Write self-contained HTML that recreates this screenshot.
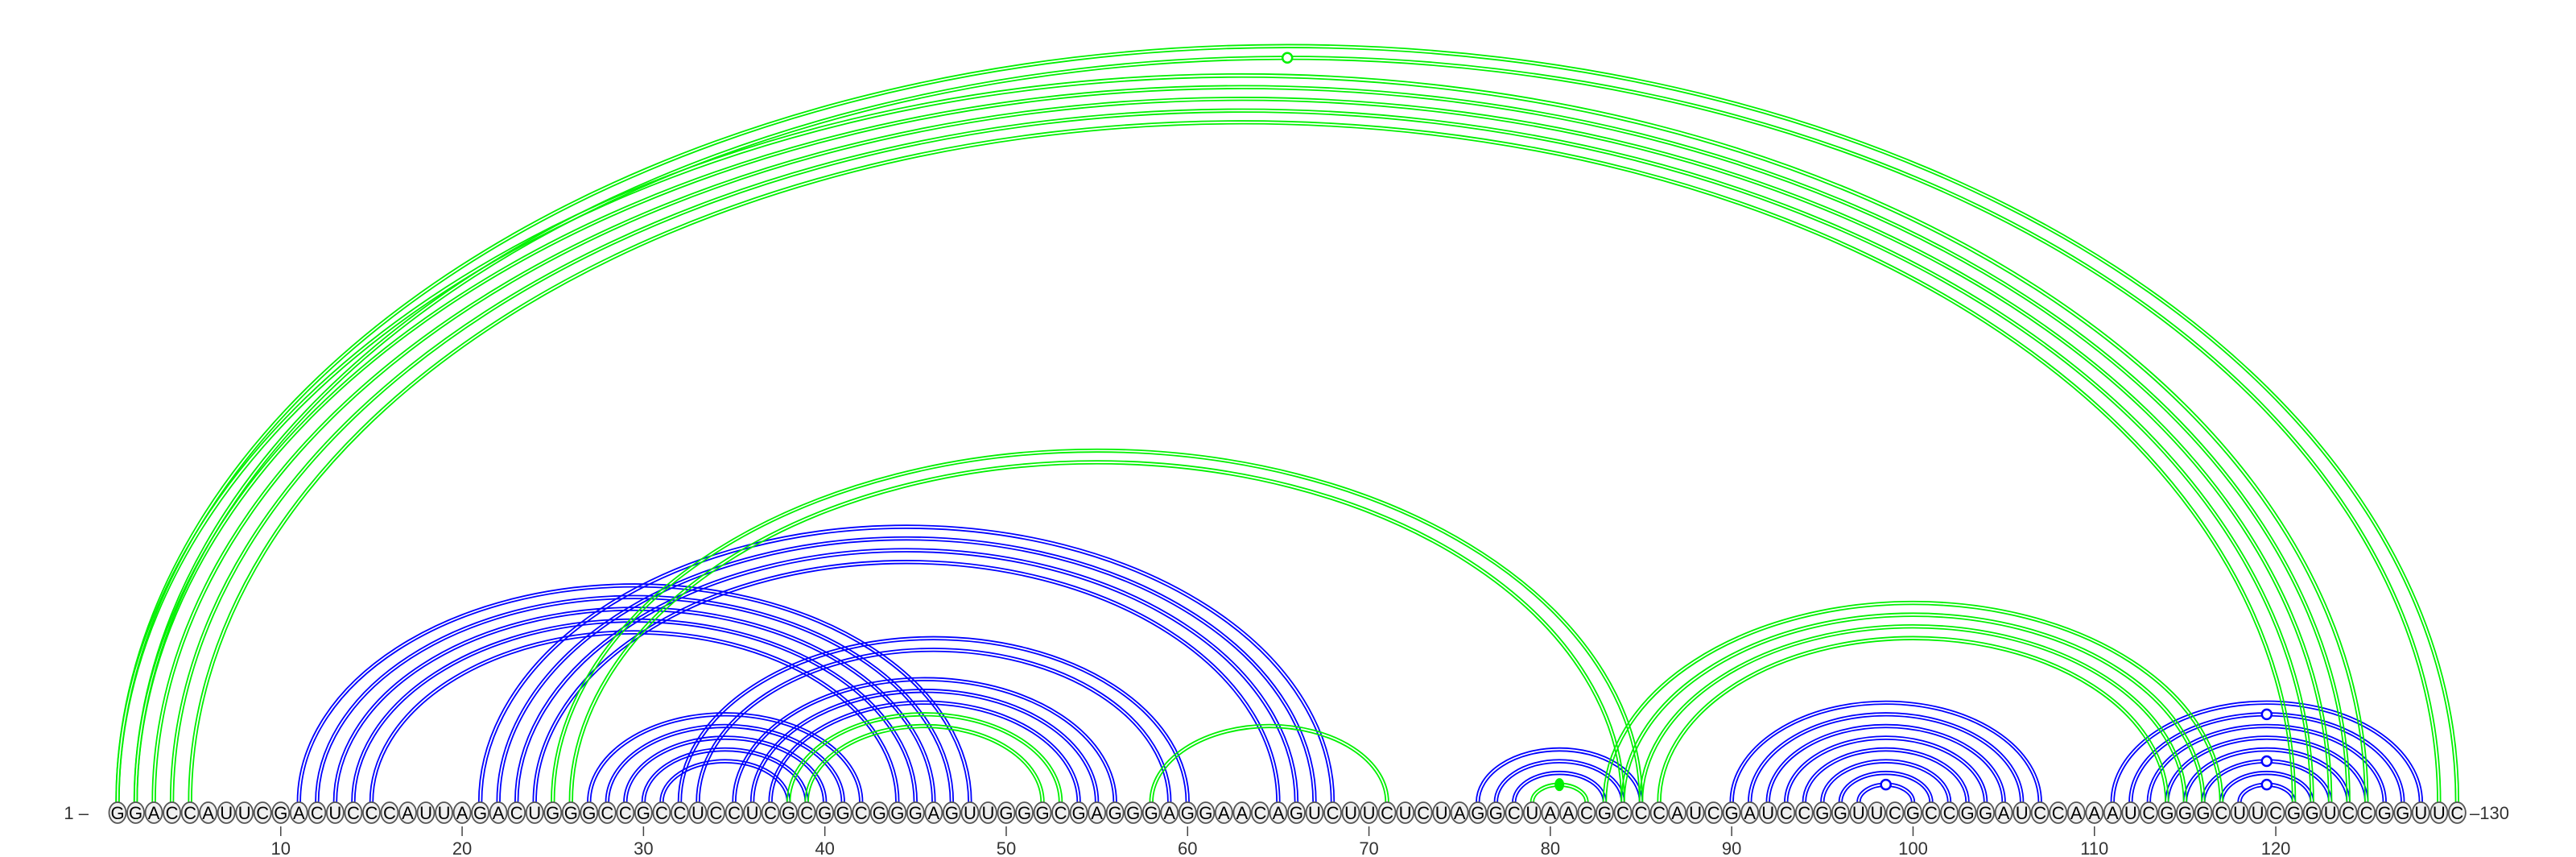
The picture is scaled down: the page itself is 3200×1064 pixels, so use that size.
<!DOCTYPE html>
<html><head><meta charset="utf-8">
<style>
html,body{margin:0;padding:0;background:#fff;}
svg{display:block;}
text{font-family:"Liberation Sans","DejaVu Sans",sans-serif;}
</style></head>
<body>
<svg id="chart" width="3200" height="1064" viewBox="0 0 3200 1064" xmlns="http://www.w3.org/2000/svg">
<g id="arcs-blue"></g>
<g id="arcs-green"></g>
<g id="markers"></g>
<g id="bases"></g>
<g id="ticks"></g>
</svg>
<script>
const sequence = "GGACCAUUCGACUCCCAUUAGACUGGGCCGCCUCCUCGCGGCGGGAGUUGGGCGAGGGAGGAACAGUCUUCUCUAGGCUAACGCCCAUCGAUCCGGUUCGCCGGAUCCAAAUCGGGCUUCGGUCCGGUUC";
const bluePairs = [
 [11,48],[12,47],[13,46],[14,45],[15,44],
 [21,68],[22,67],[23,66],[24,65],
 [27,42],[28,41],[29,40],[30,39],[31,38],
 [32,60],[33,59],[35,56],[36,55],[37,54],
 [76,85],[77,84],[78,83],
 [90,107],[91,106],[92,105],[93,104],[94,103],[95,102],[96,101],[97,100],
 [111,128],[112,127],[113,126],[114,125],[115,124],[116,123],[117,122],[118,121]
];
const greenPairs = [
 [1,130],[2,129],[1,125],[2,124],[3,123],[4,122],[5,121],
 [25,85],[26,84],[38,53],[39,52],[58,71],[79,82],
 [83,117],[84,116],[85,115],[86,114]
];
const openMarkers = [[2,129,'g'],[97,100,'b'],[118,121,'b'],[116,123,'b'],[112,127,'b']];
const filledMarkers = [[79,82,'g']];
const tickLabels = [10,20,30,40,50,60,70,80,90,100,110,120];

const NS = "http://www.w3.org/2000/svg";
const X0 = 146, DX = 22.53, Y0 = 996, RATIO = 0.646;
const BLUE = "#0000ff", GREEN = "#00f000";
function xPos(i){ return X0 + (i-1)*DX; }
function arcH(i,j){ return (xPos(j)-xPos(i))/2*RATIO; }
function mk(tag, attrs, parent){
  const el = document.createElementNS(NS, tag);
  for (const k in attrs) el.setAttribute(k, attrs[k]);
  parent.appendChild(el); return el;
}
function drawArcs(pairs, color, gid, name){
  const g = document.getElementById(gid);
  pairs.forEach(p => {
    const x1 = xPos(p[0]), x2 = xPos(p[1]);
    [-1.8, 1.8].forEach(off => {
      const rx = (x2-x1)/2 + off, ry = arcH(p[0],p[1]) + off;
      const cx = (x1+x2)/2;
      const el = mk('path', {d:`M${cx-rx},${Y0} A${rx},${ry} 0 0 1 ${cx+rx},${Y0}`, fill:'none', stroke:color, 'stroke-width':1.8}, g);
      
      
    });
  });
}
drawArcs(bluePairs, BLUE, 'arcs-blue', 'blue-pair-arc');
drawArcs(greenPairs, GREEN, 'arcs-green', 'green-pair-arc');

const mg = document.getElementById('markers');
openMarkers.forEach(m => {
  const cx = (xPos(m[0])+xPos(m[1]))/2, cy = Y0 - arcH(m[0],m[1]);
  const el = mk('circle', {cx:cx, cy:cy, r:6, fill:'#fff', stroke:m[2]=='g'?GREEN:BLUE, 'stroke-width':2.5}, mg);
  
  
});
filledMarkers.forEach(m => {
  const cx = (xPos(m[0])+xPos(m[1]))/2, cy = Y0 - arcH(m[0],m[1]);
  const el = mk('ellipse', {cx:cx, cy:cy, rx:6, ry:8, fill:GREEN}, mg);
  
  
});

const bg = document.getElementById('bases');
for (let i=1;i<=sequence.length;i++){
  const x = xPos(i);
  const c = mk('ellipse', {cx:x, cy:1009, rx:10.5, ry:13, fill:'#f0f0f0', stroke:'#555', 'stroke-width':1.8}, bg);
  
  
  const t = mk('text', {x:x, y:1017, 'font-size':22, 'text-anchor':'middle', fill:'#000'}, bg);
  t.textContent = sequence[i-1];
  
  
}
const l1 = mk('text', {x:110, y:1017, 'font-size':22, 'text-anchor':'end', fill:'#333'}, bg);
l1.textContent = "1 \u2013";


const l2 = mk('text', {x:3068, y:1017, 'font-size':22, 'text-anchor':'start', fill:'#333'}, bg);
l2.textContent = "\u2013130";



const tg = document.getElementById('ticks');
tickLabels.forEach(v => {
  const x = xPos(v);
  const ln = mk('line', {x1:x, x2:x, y1:1026, y2:1038, stroke:'#444', 'stroke-width':1.5}, tg);
  
  
  const t = mk('text', {x:x, y:1061, 'font-size':22, 'text-anchor':'middle', fill:'#333'}, tg);
  t.textContent = v;
  
  
});
</script>
</body></html>
